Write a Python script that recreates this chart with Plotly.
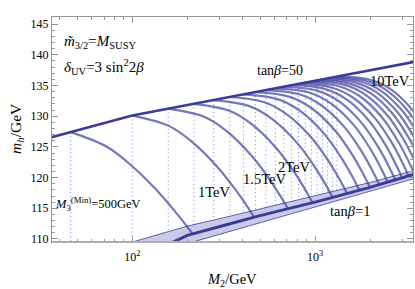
import math
import plotly.graph_objects as go

# ---------------- data ----------------
top_M2 = [36, 100, 1000, 3500]                      # tan(beta)=50 line
top_mh = [126.55, 130.1, 135.76, 138.84]

band_up_M2 = [100, 150, 200, 300, 500, 1000, 2000, 3550]   # tan(beta)=1 band
band_up_mh = [109.5, 111.0, 112.1, 113.3, 114.9, 117.0, 119.2, 121.2]
band_mid_M2 = [165, 200, 316, 500, 1000, 2000, 3550]
band_mid_mh = [109.4, 110.6, 112.2, 113.8, 116.0, 118.4, 120.6]
band_lo_M2 = [200, 300, 500, 1000, 2000, 3550]
band_lo_mh = [109.25, 110.75, 112.6, 115.2, 117.8, 119.9]

arc_M3_TeV = [0.5, 1, 1.5, 2, 2.5, 3, 3.5, 4, 4.5, 5, 5.5, 6, 6.5, 7, 7.5, 8, 8.5, 9, 9.5, 10]
arc_M2 = [
    [46.0, 72.9, 99.2, 134.9, 169.8, 198.2, 213.8],
    [100.0, 158.5, 215.6, 293.1, 368.9, 430.5, 464.5],
    [157.4, 247.5, 334.6, 452.4, 567.4, 659.6, 711.2],
    [217.3, 340.4, 459.2, 619.4, 775.3, 900.5, 970.5],
    [279.3, 437.8, 590.9, 797.6, 998.6, 1160, 1250],
    [342.0, 532.9, 716.1, 962.5, 1201, 1393, 1500],
    [406.4, 630.0, 843.3, 1129, 1406, 1627, 1750],
    [472.1, 727.8, 971.6, 1297, 1611, 1861, 2000],
    [539.5, 827.9, 1102, 1466, 1816, 2094, 2249],
    [606.7, 928.3, 1231, 1635, 2022, 2330, 2500],
    [674.5, 1028, 1361, 1803, 2226, 2562, 2748],
    [744.7, 1131, 1495, 1975, 2434, 2798, 3000],
    [812.8, 1232, 1626, 2145, 2641, 3033, 3251],
    [885.1, 1337, 1760, 2317, 2848, 3268, 3499],
    [955.0, 1439, 1892, 2488, 3054, 3502, 3750],
    [1026, 1543, 2026, 2659, 3262, 3737, 3999],
    [1099, 1649, 2160, 2831, 3467, 3970, 4246],
    [1172, 1755, 2296, 3005, 3677, 4205, 4498],
    [1245, 1860, 2432, 3180, 3888, 4445, 4753],
    [1318, 1967, 2568, 3352, 4095, 4678, 5000],
]
arc_mh = [
    [127.40, 124.99, 121.93, 118.04, 114.62, 112.14, 110.83],
    [130.10, 128.42, 125.66, 121.69, 117.95, 115.08, 113.54],
    [131.22, 129.89, 127.36, 123.46, 119.60, 116.57, 114.92],
    [132.01, 130.87, 128.50, 124.66, 120.75, 117.62, 115.90],
    [132.62, 131.63, 129.40, 125.65, 121.72, 118.53, 116.77],
    [133.12, 132.23, 130.10, 126.41, 122.45, 119.21, 117.40],
    [133.55, 132.73, 130.69, 127.04, 123.06, 119.78, 117.94],
    [133.91, 133.15, 131.17, 127.55, 123.58, 120.26, 118.40],
    [134.24, 133.53, 131.61, 128.05, 124.07, 120.74, 118.85],
    [134.53, 133.86, 132.01, 128.50, 124.53, 121.17, 119.26],
    [134.79, 134.16, 132.36, 128.87, 124.91, 121.55, 119.62],
    [135.04, 134.44, 132.69, 129.25, 125.28, 121.89, 119.96],
    [135.25, 134.68, 132.96, 129.56, 125.60, 122.22, 120.27],
    [135.46, 134.92, 133.24, 129.87, 125.92, 122.52, 120.55],
    [135.65, 135.13, 133.48, 130.14, 126.21, 122.78, 120.81],
    [135.82, 135.31, 133.70, 130.39, 126.46, 123.04, 121.06],
    [135.99, 135.50, 133.92, 130.64, 126.71, 123.27, 121.29],
    [136.15, 135.68, 134.13, 130.88, 126.96, 123.50, 121.51],
    [136.30, 135.85, 134.32, 131.08, 127.17, 123.72, 121.72],
    [136.44, 136.00, 134.49, 131.28, 127.37, 123.92, 121.91],
]
dotted_bottom_mh = [109.45, 109.5, 111.18, 112.35, 113.09, 113.71, 114.25, 114.72, 115.13, 115.49,
                    115.81, 116.11, 116.37, 116.63, 116.86, 117.08, 117.30, 117.50, 117.69, 117.88]

x_tick_vals = [100, 1000]
x_tick_text = ["10<sup>2</sup>", "10<sup>3</sup>"]
x_minor_vals = [40, 50, 60, 70, 80, 90, 200, 300, 400, 500, 600, 700, 800, 900, 2000, 3000]

# ---------------- figure ----------------
SERIF = "Liberation Serif, Times New Roman, serif"
BASE = "rgb(60,60,152)"
ARC = "rgba(66,66,160,0.72)"

fig = go.Figure()

# tan(beta)=1 band fill
fig.add_trace(go.Scatter(
    x=band_up_M2 + band_lo_M2[::-1], y=band_up_mh + band_lo_mh[::-1],
    fill="toself", fillcolor="rgba(95,95,185,0.33)", mode="lines",
    line=dict(width=0), hoverinfo="skip", showlegend=False))

# dotted verticals at arc starts
for M2s, arcy, yb in zip([a[0] for a in arc_M2], [a[0] for a in arc_mh], dotted_bottom_mh):
    fig.add_trace(go.Scatter(x=[M2s, M2s], y=[arcy, yb], mode="lines",
                             line=dict(color="rgba(90,90,255,0.8)", width=1, dash="1px,3px"),
                             hoverinfo="skip", showlegend=False))

# arcs
for xs, ys in zip(arc_M2, arc_mh):
    fig.add_trace(go.Scatter(x=xs, y=ys, mode="lines",
                             line=dict(color=ARC, width=2.2, shape="spline", smoothing=1.0),
                             hoverinfo="skip", showlegend=False))

# band edges and centre
for xs, ys, w in [(band_up_M2, band_up_mh, 0.8), (band_lo_M2, band_lo_mh, 0.8), (band_mid_M2, band_mid_mh, 3.0)]:
    fig.add_trace(go.Scatter(x=xs, y=ys, mode="lines", line=dict(color=BASE, width=w),
                             hoverinfo="skip", showlegend=False))

# tan(beta)=50 line
fig.add_trace(go.Scatter(x=top_M2, y=top_mh, mode="lines", line=dict(color=BASE, width=2.6),
                         hoverinfo="skip", showlegend=False))

annotations = [
    dict(x=41.2, y=142.1, text="<i>m\u0303</i><sub>3/2</sub>=<i>M</i><sub>SUSY</sub>", xanchor="left", size=15),
    dict(x=41.2, y=138.0, text="<i>δ</i><sub>UV</sub>=3 sin<sup>2</sup>2<i>β</i>", xanchor="left", size=15),
    dict(x=640, y=137.4, text="tan<i>β</i>=50", xanchor="center", size=14),
    dict(x=2558, y=135.7, text="10TeV", xanchor="center", size=14.5),
    dict(x=36.8, y=115.7, text="<i>M</i><sub>3</sub><sup>(Min)</sup>=500GeV", xanchor="left", size=12.5),
    dict(x=282, y=117.65, text="1TeV", xanchor="center", size=14.5),
    dict(x=526, y=119.8, text="1.5TeV", xanchor="center", size=14.5),
    dict(x=777, y=121.7, text="2TeV", xanchor="center", size=14.5),
    dict(x=1563, y=114.6, text="tan<i>β</i>=1", xanchor="center", size=14.5),
]
for a in annotations:
    sz = a.pop("size")
    a.update(xref="x", yref="y", yanchor="middle", showarrow=False,
             font=dict(family=SERIF, size=sz, color="black"))
    a["x"] = math.log10(a["x"])   # log axis: annotation x given as log10

annotations.append(dict(xref="paper", yref="paper", x=-0.097, y=0.507, textangle=-90,
                        text="<i>m</i><sub><i>h</i></sub>/GeV", showarrow=False,
                        font=dict(family=SERIF, size=15.5, color="black"),
                        xanchor="center", yanchor="middle"))
annotations.append(dict(xref="paper", yref="paper", x=0.4986, y=-0.17,
                        text="<i>M</i><sub>2</sub>/GeV", showarrow=False,
                        font=dict(family=SERIF, size=14.5, color="black"),
                        xanchor="center", yanchor="middle"))

FRAME = "rgb(150,150,150)"
fig.update_layout(
    width=415, height=289,
    margin=dict(l=52, r=2, t=17, b=47),
    paper_bgcolor="white", plot_bgcolor="white",
    showlegend=False,
    annotations=annotations,
    xaxis=dict(type="log", range=[1.5605, 3.5364],
               tickvals=x_tick_vals, ticktext=x_tick_text,
               ticks="inside", ticklen=6, tickcolor=FRAME, tickwidth=1,
               minor=dict(ticks="inside", ticklen=3, tickcolor=FRAME, tickvals=x_minor_vals),
               showline=True, linecolor=FRAME, linewidth=1, mirror="ticks",
               showgrid=False, zeroline=False, ticklabelstandoff=4,
               tickfont=dict(family=SERIF, size=12, color="black")),
    yaxis=dict(range=[109.51, 146.15], tick0=110, dtick=5,
               ticks="inside", ticklen=6, tickcolor=FRAME, tickwidth=1,
               minor=dict(ticks="inside", ticklen=3, tickcolor=FRAME, dtick=1),
               showline=True, linecolor=FRAME, linewidth=1, mirror="ticks",
               showgrid=False, zeroline=False,
               tickfont=dict(family=SERIF, size=12, color="black")),
    shapes=[dict(type="line", xref="paper", yref="paper", x0=0, x1=1, y0=0, y1=0,
                 line=dict(color="rgb(175,175,175)", width=2))],
)

fig.write_html("out.html", config={"displayModeBar": False},
               post_script="document.body.style.margin='0';document.body.style.padding='0';")
